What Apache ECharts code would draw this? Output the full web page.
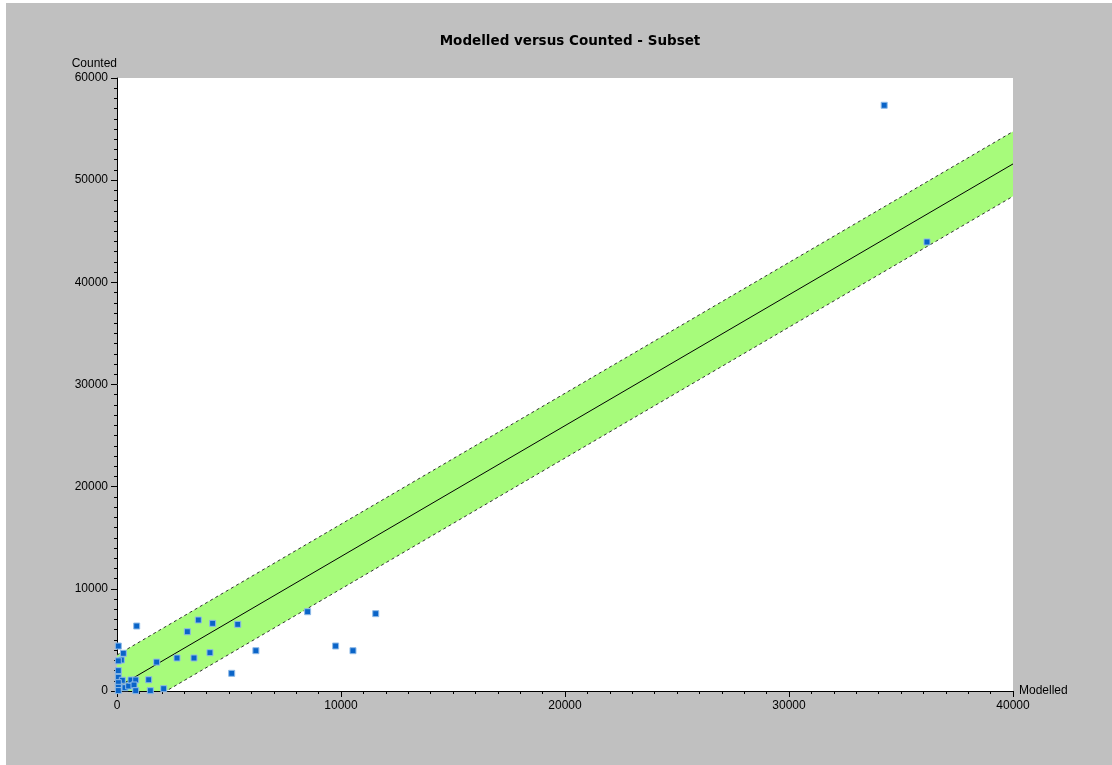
<!DOCTYPE html>
<html>
<head>
<meta charset="utf-8">
<title>Modelled versus Counted - Subset</title>
<script src="https://cdn.jsdelivr.net/npm/echarts@6/dist/echarts.min.js"></script>
<style>
  html, body { margin: 0; padding: 0; background: #fff; }
  #frame { position: absolute; left: 6px; top: 3px; width: 1106px; height: 762px; background: #c0c0c0; }
  #chart { position: absolute; left: -6px; top: -3px; width: 1112px; height: 765px; }
</style>
</head>
<body>
<div id="frame"><div id="chart"></div></div>
<script>
// modelled vs counted observations
const points = [
  [58, 4400], [879, 6360], [283, 3690], [193, 3035], [58, 2950], [58, 1990],
  [58, 1340], [238, 1050], [58, 815], [58, 360], [58, 40], [357, 325],
  [521, 490], [625, 1077], [835, 1077], [759, 587], [835, 30], [1415, 1100],
  [1488, 30], [1771, 2830], [2085, 225], [2678, 3230], [3140, 5800], [3437, 3230],
  [3630, 6950], [4150, 3750], [4270, 6625], [5120, 1730], [5390, 6525], [6200, 3945],
  [8510, 7760], [9760, 4405], [10535, 3945], [11550, 7570], [34250, 57330], [36160, 43950],
]
// regression line and its band (end points)
const fitLine = [[0, 350], [40000, 51590]]
const upperLine = [[0, 3520], [40000, 54760]]
const lowerLine = [[0, -2820], [40000, 48420]]

const chart = echarts.init(document.getElementById('chart'))

const axisText = { color: '#000', fontSize: 12, fontFamily: 'Liberation Sans, Arial, sans-serif' }
const plain = v => String(v) // no thousands separator

chart.setOption({
  backgroundColor: 'transparent',
  animation: false,
  title: {
    text: 'Modelled versus Counted - Subset',
    left: 565,
    top: 29,
    textAlign: 'center',
    textStyle: { color: '#000', fontSize: 13.5, fontWeight: 'bold', fontFamily: 'DejaVu Sans, sans-serif' },
  },
  grid: { left: 117, top: 78, right: 99, bottom: 74, show: true, backgroundColor: '#fff', borderWidth: 0 },
  xAxis: {
    type: 'value',
    min: 0,
    max: 40000,
    interval: 10000,
    name: 'Modelled',
    nameLocation: 'end',
    nameGap: 6,
    nameTextStyle: { ...axisText, verticalAlign: 'middle' },
    axisLine: { lineStyle: { color: '#000', width: 1 } },
    axisTick: { length: 6, lineStyle: { color: '#000' } },
    minorTick: { show: true, splitNumber: 10, length: 3, lineStyle: { color: '#000' } },
    axisLabel: { ...axisText, margin: 9, formatter: plain },
    splitLine: { show: false },
  },
  yAxis: {
    type: 'value',
    min: 0,
    max: 60000,
    interval: 10000,
    name: 'Counted',
    nameLocation: 'end',
    nameGap: 8,
    nameTextStyle: { ...axisText, align: 'right' },
    axisLine: { show: true, lineStyle: { color: '#000', width: 1 } },
    axisTick: { show: true, length: 6, lineStyle: { color: '#000' } },
    minorTick: { show: true, splitNumber: 10, length: 3, lineStyle: { color: '#000' } },
    axisLabel: { ...axisText, margin: 9, formatter: plain },
    splitLine: { show: false },
  },
  series: [
    {
      type: 'custom',
      clip: true,
      silent: true,
      data: [0],
      renderItem(params, api) {
        const pts = [
          api.coord(upperLine[0]), api.coord(upperLine[1]),
          api.coord(lowerLine[1]), api.coord(lowerLine[0]),
        ]
        return {
          type: 'polygon',
          shape: { points: pts },
          style: { fill: '#a7fb7b' },
        }
      },
      z: 1,
    },
    {
      type: 'line',
      data: upperLine,
      symbol: 'none',
      clip: true,
      lineStyle: { color: '#333', width: 1, type: [3, 3] },
      z: 2,
    },
    {
      type: 'line',
      data: lowerLine,
      symbol: 'none',
      clip: true,
      lineStyle: { color: '#333', width: 1, type: [3, 3] },
      z: 2,
    },
    {
      type: 'line',
      data: fitLine,
      symbol: 'none',
      clip: true,
      lineStyle: { color: '#000', width: 1 },
      z: 2,
    },
    {
      type: 'scatter',
      data: points,
      symbol: 'rect',
      symbolSize: 6,
      itemStyle: { color: '#0a64c8', borderColor: '#8fbbe8', borderWidth: 1, opacity: 1 },
      z: 3,
    },
  ],
})
</script>
</body>
</html>
